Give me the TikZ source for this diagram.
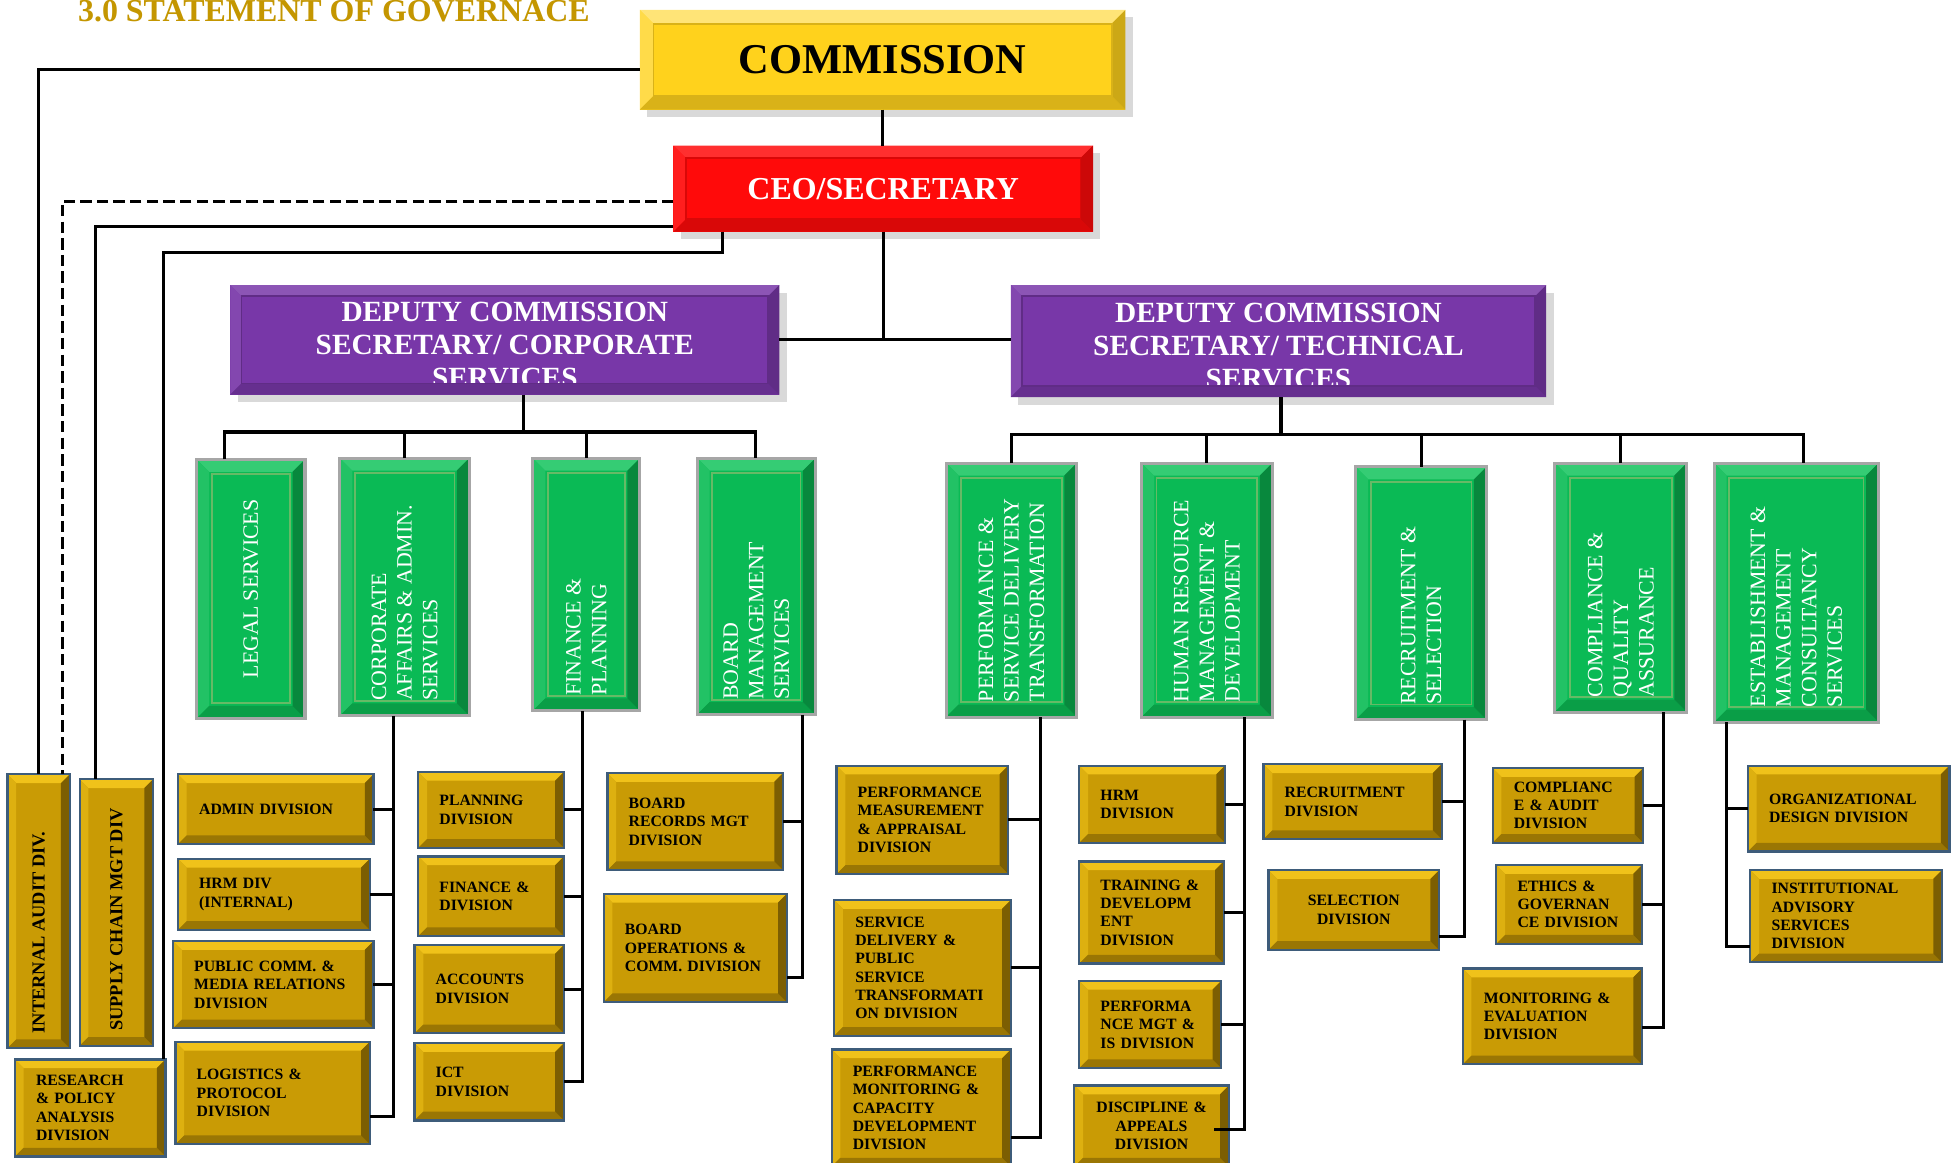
\documentclass[tikz,border=0pt]{standalone}
\usepackage{fontspec}
\setmainfont{Liberation Serif}
\usepackage{graphicx}
\usetikzlibrary{calc}
\usetikzlibrary{shadows}

\definecolor{titlegold}{HTML}{C49600}
\definecolor{commyellow}{HTML}{FFD21C}
\definecolor{ceored}{HTML}{FF0A0A}
\definecolor{deppurple}{HTML}{7837A8}
\definecolor{svcgreen}{HTML}{0ABA55}
\definecolor{divgold}{HTML}{C99B05}
\definecolor{divedge}{HTML}{3E5C7A}
\definecolor{goldtop}{HTML}{F0C21A}
\definecolor{goldleft}{HTML}{DDB010}
\definecolor{goldbot}{HTML}{9A7604}
\definecolor{goldright}{HTML}{7C5E02}
\definecolor{greentop}{HTML}{35CC74}
\definecolor{greenleft}{HTML}{22C265}
\definecolor{greenbot}{HTML}{0A9E47}
\definecolor{greenright}{HTML}{08883D}

% node, inset, top, left, bottom, right
\newcommand{\bevel}[6]{\fill[#3] (#1.north west) -- (#1.north east) -- ([xshift=-#2,yshift=-#2]#1.north east) -- ([xshift=#2,yshift=-#2]#1.north west) -- cycle; \fill[#4] (#1.north west) -- ([xshift=#2,yshift=-#2]#1.north west) -- ([xshift=#2,yshift=#2]#1.south west) -- (#1.south west) -- cycle; \fill[#5] (#1.south west) -- ([xshift=#2,yshift=#2]#1.south west) -- ([xshift=-#2,yshift=#2]#1.south east) -- (#1.south east) -- cycle; \fill[#6] (#1.south east) -- ([xshift=-#2,yshift=#2]#1.south east) -- ([xshift=-#2,yshift=-#2]#1.north east) -- (#1.north east) -- cycle;}
\newcommand{\innerline}[3]{\draw[#3, line width=0.4pt] ([xshift=#2,yshift=-#2]#1.north west) rectangle ([xshift=-#2,yshift=#2]#1.south east);}
% [align] name, x, y, w, h, text
\newcommand{\divbox}[7][left]{\pgfmathsetmacro{\boxw}{#5/10}\pgfmathsetmacro{\boxh}{#6/10}\pgfmathsetmacro{\textw}{#5/10-3.4} \node[div, anchor=north west, align=#1, minimum width=\boxw mm, minimum height=\boxh mm, text width=\textw mm] (#2) at (#3,#4) {#7}; \bevel{#2}{0.7mm}{goldtop}{goldleft}{goldbot}{goldright} \draw[divedge, line width=0.5pt] (#2.north west) rectangle (#2.south east);}
\newcommand{\sidebox}[6]{\pgfmathsetmacro{\boxw}{#4/10}\pgfmathsetmacro{\boxh}{#5/10}\pgfmathsetmacro{\textw}{#5/10-2.4} \node[div, anchor=north west, inner sep=0pt, minimum width=\boxw mm, minimum height=\boxh mm, font=\fontsize{4.2}{5}\selectfont\bfseries] (#1) at (#2,#3) {\rotatebox{90}{\parbox{\textw mm}{\raggedright #6}}}; \bevel{#1}{0.7mm}{goldtop}{goldleft}{goldbot}{goldright} \draw[divedge, line width=0.5pt] (#1.north west) rectangle (#1.south east);}
\newcommand{\svcbox}[7][\raggedright]{\pgfmathsetmacro{\boxw}{#5/10}\pgfmathsetmacro{\boxh}{#6/10}\pgfmathsetmacro{\textw}{#6/10-2.4} \node[svc, anchor=north west, minimum width=\boxw mm, minimum height=\boxh mm] (#2) at (#3,#4) {\rotatebox{90}{\parbox{\textw mm}{#1 #7}}}; \bevel{#2}{1mm}{greentop}{greenleft}{greenbot}{greenright} \innerline{#2}{1.2mm}{green!55!black!60} \draw[gray!70, line width=0.7pt] (#2.north west) rectangle (#2.south east);}
% name, text
\newcommand{\deptext}[1]{\raisebox{-0.4mm}[\height][\depth]{\parbox{42mm}{\centering #1}}}

\tikzset{
  link/.style={line width=0.7pt},
  linkdash/.style={line width=0.7pt, dash pattern=on 2.6pt off 1.2pt},
  topbox/.style={outer sep=0pt, inner sep=0pt, align=center, drop shadow={opacity=0.3, shadow xshift=0.6mm, shadow yshift=-0.6mm}},
  div/.style={fill=divgold, draw=divedge, line width=0.5pt, outer sep=0pt, inner xsep=1.7mm, inner ysep=0pt, font=\fontsize{3.6}{4.2}\selectfont\bfseries},
  svc/.style={fill=svcgreen, outer sep=0pt, inner sep=0pt, text=white, font=\fontsize{5}{5.85}\selectfont},
}

\begin{document}
\begin{tikzpicture}[x=0.1mm,y=-0.1mm]
\useasboundingbox (0,0) rectangle (1568,934);

\node[anchor=base west, inner sep=0pt, text=titlegold, font=\fontsize{7.3}{8}\selectfont\bfseries] (title) at (62,17) {3.0 STATEMENT OF GOVERNACE};

% head of the chart
\node[topbox, fill=commyellow, minimum width=39mm, minimum height=8mm, font=\fontsize{9.7}{11}\selectfont\bfseries] (commission) at (709,48) {COMMISSION};
\bevel{commission}{1.1mm}{commyellow!60!white}{commyellow!80!white}{commyellow!85!black}{commyellow!80!black}
\innerline{commission}{1.1mm}{commyellow!85!black}
\node[topbox, fill=ceored, text=white, minimum width=33.7mm, minimum height=6.9mm, font=\fontsize{7.3}{8}\selectfont\bfseries] (ceo) at (709.5,151.5) {CEO/SECRETARY};
\bevel{ceo}{1mm}{ceored!85!white}{ceored!92!white}{ceored!85!black}{ceored!80!black}
\innerline{ceo}{1mm}{ceored!85!black}
\node[topbox, fill=deppurple, text=white, minimum width=44.1mm, minimum height=8.8mm, font=\fontsize{6.7}{7.55}\selectfont\bfseries] (depcorp) at (405.5,273) {\deptext{DEPUTY COMMISSION\\SECRETARY/ CORPORATE\\SERVICES}};
\bevel{depcorp}{0.9mm}{deppurple!85!white}{deppurple!92!white}{deppurple!85!black}{deppurple!80!black}
\innerline{depcorp}{0.9mm}{deppurple!80!black}
\node[topbox, fill=deppurple, text=white, minimum width=43mm, minimum height=9mm, font=\fontsize{6.7}{7.55}\selectfont\bfseries] (deptech) at (1027,274) {\deptext{DEPUTY COMMISSION\\SECRETARY/ TECHNICAL\\SERVICES}};
\bevel{deptech}{0.9mm}{deppurple!85!white}{deppurple!92!white}{deppurple!85!black}{deppurple!80!black}
\innerline{deptech}{0.9mm}{deppurple!80!black}

% services
\svcbox[\centering]{legal}{158}{369}{87}{208}{LEGAL SERVICES}
\svcbox{corpaff}{273}{368}{104}{207}{CORPORATE\\AFFAIRS \& ADMIN.\\SERVICES}
\svcbox{finplan}{428}{368}{86}{203}{FINANCE \&\\PLANNING}
\svcbox{boardmgt}{560}{368}{95}{206}{BOARD\\MANAGEMENT\\SERVICES}
\svcbox{perfsd}{760}{372}{105}{204}{PERFORMANCE \&\\SERVICE DELIVERY\\TRANSFORMATION}
\svcbox{hrmd}{917}{372}{105}{204}{HUMAN RESOURCE\\MANAGEMENT \&\\DEVELOPMENT}
\svcbox{recsel}{1089}{375}{105}{203}{RECRUITMENT \&\\SELECTION}
\svcbox{compqa}{1249}{372}{106}{200}{COMPLIANCE \&\\QUALITY\\ASSURANCE}
\svcbox{estmc}{1377}{372}{132}{208}{ESTABLISHMENT \&\\MANAGEMENT\\CONSULTANCY\\SERVICES}

% divisions
\sidebox{intaudit}{6}{622}{50}{220}{INTERNAL AUDIT DIV.}
\sidebox{supply}{64}{626}{59}{214}{SUPPLY CHAIN MGT DIV}
\divbox{research}{12}{851}{121}{78}{RESEARCH\\\& POLICY\\ANALYSIS\\DIVISION}
\divbox{admin}{143}{622}{157}{56}{ADMIN DIVISION}
\divbox{hrmint}{143}{690}{154}{57}{HRM DIV\\(INTERNAL)}
\divbox{pubcomm}{139}{756}{161}{70}{PUBLIC COMM. \&\\MEDIA RELATIONS\\DIVISION}
\divbox{logistics}{141}{837}{156}{82}{LOGISTICS \&\\PROTOCOL\\DIVISION}
\divbox{planning}{336}{620}{117}{61}{PLANNING\\DIVISION}
\divbox{findiv}{336}{688}{117}{64}{FINANCE \&\\DIVISION}
\divbox{accounts}{333}{759}{120}{71}{ACCOUNTS\\DIVISION}
\divbox{ict}{333}{838}{120}{62}{ICT\\DIVISION}
\divbox{records}{488}{621}{141}{78}{BOARD\\RECORDS MGT\\DIVISION}
\divbox{boardops}{485}{718}{147}{87}{BOARD\\OPERATIONS \&\\COMM. DIVISION}
\divbox{perfmeas}{672}{615}{138}{87}{PERFORMANCE\\MEASUREMENT\\\& APPRAISAL\\DIVISION}
\divbox{servdel}{670}{723}{142}{109}{SERVICE\\DELIVERY \&\\PUBLIC\\SERVICE\\TRANSFORMATI\\ON DIVISION}
\divbox{perfmon}{668}{843}{144}{94}{PERFORMANCE\\MONITORING \&\\CAPACITY\\DEVELOPMENT\\DIVISION}
\divbox{hrmdiv}{867}{615}{117}{62}{HRM\\DIVISION}
\divbox{training}{867}{692}{116}{82}{TRAINING \&\\DEVELOPM\\ENT\\DIVISION}
\divbox{perfmgt}{867}{788}{114}{70}{PERFORMA\\NCE MGT \&\\IS DIVISION}
\divbox[center]{discipline}{863}{872}{124}{65}{DISCIPLINE \&\\APPEALS\\DIVISION}
\divbox{recdiv}{1015}{614}{143}{60}{RECRUITMENT\\DIVISION}
\divbox[center]{seldiv}{1019}{699}{137}{64}{SELECTION\\DIVISION}
\divbox{compaud}{1199}{617}{121}{60}{COMPLIANC\\E \& AUDIT\\DIVISION}
\divbox{ethics}{1202}{695}{117}{63}{ETHICS \&\\GOVERNAN\\CE DIVISION}
\divbox{monev}{1175}{778}{144}{77}{MONITORING \&\\EVALUATION\\DIVISION}
\divbox{orgdes}{1404}{615}{162}{69}{ORGANIZATIONAL\\DESIGN DIVISION}
\divbox{instadv}{1406}{699}{154}{74}{INSTITUTIONAL\\ADVISORY\\SERVICES\\DIVISION}

% lines from the top
\draw[link] (commission.south) -- (commission.south |- ceo.north);
\draw[link] (ceo.south) -- (ceo.south |- depcorp.east);
\draw[link] (depcorp.east) -- (depcorp.east -| deptech.west);
\draw[link] ($(commission.west)+(0,8)$) -| (intaudit.north);
\draw[linkdash] ($(ceo.west)+(0,10)$) -| ($(intaudit.north east)+(-6,0)$);
\draw[link] ($(ceo.south west)+(0,-4)$) -| ($(supply.north west)+(13,0)$);
\draw[link] ($(ceo.south west)+(39,0)$) -- ++(0,17) -| ($(research.north east)+(-2,0)$);

% corporate side
\coordinate (cbus) at ($(depcorp.south)+(15,30)$);
\draw[link] ($(depcorp.south)+(15,0)$) -- (cbus);
\draw[link] ($(legal.north)+(-21,0)$) |- ($(boardmgt.north)+(-1,-21)$) -- ($(boardmgt.north)+(-1,0)$);
\foreach \s in {corpaff,finplan} \draw[link] (\s.north) -- (\s.north |- cbus);

% technical side
\coordinate (tbus) at ($(deptech.south)+(2,30)$);
\draw[link] ($(deptech.south)+(2,0)$) -- (tbus);
\draw[link] (perfsd.north) |- ($(estmc.north)+(6,-23)$) -- ($(estmc.north)+(6,0)$);
\foreach \s in {hrmd,recsel,compqa} \draw[link] (\s.north) -- (\s.north |- tbus);

% divisions
\coordinate (caT) at ($(corpaff.south)+(-9,0)$);
\draw[link] (caT) |- ($(logistics.east)+(0,19)$);
\foreach \d in {admin,hrmint,pubcomm} \draw[link] (\d.east) -- (caT |- \d.east);
\coordinate (fpT) at ($(finplan.south)+(-3,0)$);
\draw[link] (fpT) |- (ict.east);
\foreach \d in {planning,findiv,accounts} \draw[link] (\d.east) -- (fpT |- \d.east);
\coordinate (bmT) at ($(boardmgt.south)+(37.5,0)$);
\draw[link] (bmT) |- ($(boardops.east)+(0,24)$);
\draw[link] (records.east) -- (bmT |- records.east);
\coordinate (psT) at ($(perfsd.south)+(23.5,0)$);
\draw[link] (psT) |- ($(perfmon.east)+(0,24)$);
\foreach \d in {perfmeas,servdel} \draw[link] (\d.east) -- (psT |- \d.east);
\coordinate (hrT) at ($(hrmd.south)+(30,0)$);
\draw[link] (hrT) |- ($(discipline.east)+(-12,2.5)$);
\foreach \d in {hrmdiv,training,perfmgt} \draw[link] (\d.east) -- (hrT |- \d.east);
\coordinate (rsT) at ($(recsel.south)+(35,0)$);
\draw[link] (rsT) |- ($(seldiv.east)+(0,21)$);
\draw[link] (recdiv.east) -- (rsT |- recdiv.east);
\coordinate (cqT) at ($(compqa.south)+(34,0)$);
\draw[link] (cqT) |- ($(monev.east)+(0,8.5)$);
\foreach \d in {compaud,ethics} \draw[link] (\d.east) -- (cqT |- \d.east);
\coordinate (emT) at ($(estmc.south)+(-56,0)$);
\draw[link] (emT) |- ($(instadv.west)+(0,24)$);
\draw[link] (orgdes.west) -- (emT |- orgdes.west);
\end{tikzpicture}
\end{document}
